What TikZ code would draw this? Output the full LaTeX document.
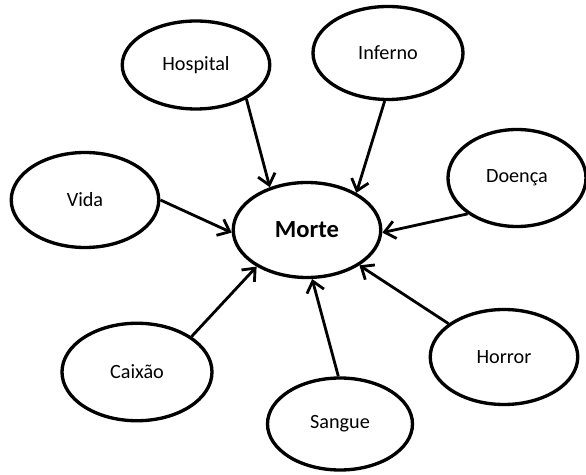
\documentclass[tikz,border=0pt]{standalone}
\usepackage{fontspec}
\setmainfont{Carlito}
\usetikzlibrary{shapes.geometric,arrows.meta}

\begin{document}
\begin{tikzpicture}[transform shape, scale=1]

\tikzset{
  bubble/.style={ellipse, draw, line width=1.9pt, minimum width=2.95cm, minimum height=1.9cm, inner sep=0pt, font=\fontsize{11.5}{13}\selectfont},
  bubedg/.style={-{Straight Barb[length=6pt,width=10pt]}, line width=1.6pt},
}

\useasboundingbox (-6.14,4.6) rectangle (5.58,-4.9);

\node[bubble,name=morte,minimum height=1.9cm,font=\fontsize{14}{16}\selectfont\bfseries] at (0,0) {Morte};
\node[bubble,name=hosp,minimum height=1.76cm] at (-2.22,3.3) {Hospital};
\node[bubble,name=inferno,minimum width=3cm,minimum height=1.86cm] at (1.62,3.54) {Inferno};
\node[bubble,name=vida] at (-4.44,0.6) {Vida};
\node[bubble,name=doenca,minimum width=2.76cm,minimum height=1.94cm] at (4.2,1.04) {Doença};
\node[bubble,name=caixao,minimum width=3cm,minimum height=1.95cm] at (-3.4,-2.84) {Caixão};
\node[bubble,name=sangue,minimum width=2.9cm,minimum height=1.84cm] at (0.66,-3.88) {Sangue};
\node[bubble,name=horror] at (3.94,-2.54) {Horror};

\draw[bubedg] (hosp.-34) -- (morte.131);
\draw[bubedg] (inferno.-94) -- (morte.37);
\draw[bubedg] (vida.0) -- (morte.182);
\draw[bubedg] (doenca.216) -- (morte.-2);
\draw[bubedg] (caixao.33) -- (morte.216);
\draw[bubedg] (sangue.92) -- (morte.-84);
\draw[bubedg] (horror.149) -- (morte.-34);

\end{tikzpicture}
\end{document}
